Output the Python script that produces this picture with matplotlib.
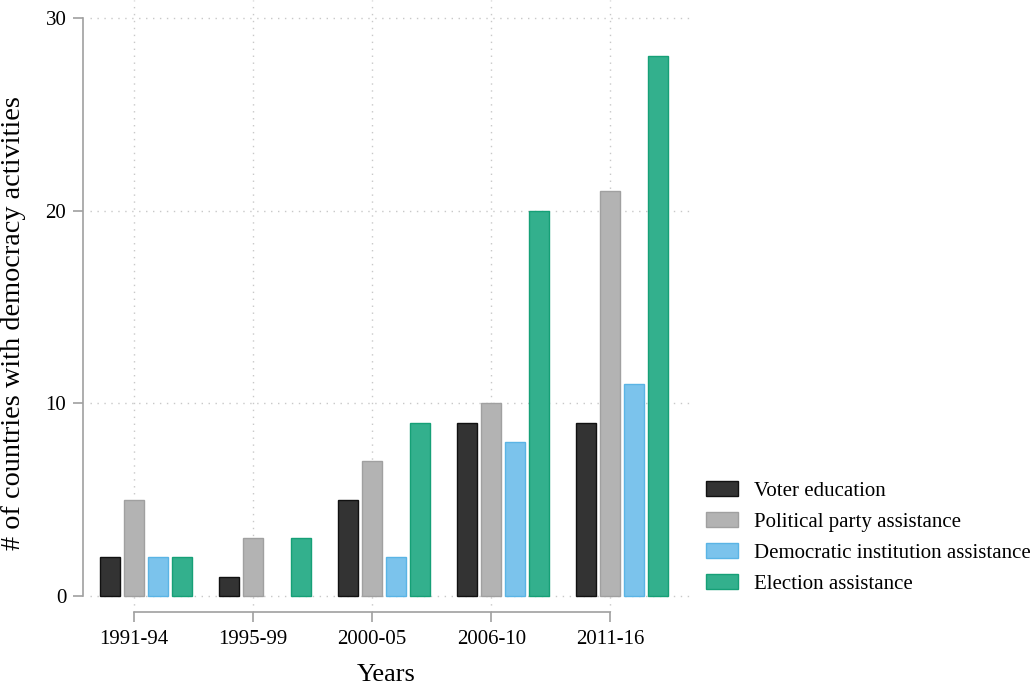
import numpy as np
import matplotlib as mpl
import matplotlib.pyplot as plt

mpl.rcParams['font.family'] = 'serif'
mpl.rcParams['font.serif'] = ['Liberation Serif', 'DejaVu Serif']

# data
periods = ["1991-94", "1995-99", "2000-05", "2006-10", "2011-16"]
voter_education = [2, 1, 5, 9, 9]
party_assistance = [5, 3, 7, 10, 21]
institution_assistance = [2, 0, 2, 8, 11]
election_assistance = [2, 3, 9, 20, 28]

series = [
    ("Voter education", voter_education, "#333333", "#111111"),
    ("Political party assistance", party_assistance, "#b3b3b3", "#a0a0a0"),
    ("Democratic institution assistance", institution_assistance, "#7bc3ec", "#5ab4e5"),
    ("Election assistance", election_assistance, "#33b08d", "#16a077"),
]

fig = plt.figure(figsize=(10.35, 6.86), dpi=100)
ax = fig.add_axes([0.0802, 0.1079, 0.5865, 0.8921])

x = np.arange(len(periods))
pitch = 0.2017
offsets = [-pitch, 0, pitch, 2 * pitch]
width = 0.168

for (label, vals, fc, ec), off in zip(series, offsets):
    vals = np.asarray(vals, dtype=float)
    mask = vals > 0
    ax.bar(x[mask] + off, vals[mask], width=width, color=fc, edgecolor=ec,
           linewidth=1.0, label=label, zorder=3)

ax.set_xlim(-0.43, 4.67)
ax.set_ylim(-0.83, 30.93)
ax.set_yticks([0, 10, 20, 30])
ax.set_xticks(x)
ax.set_xticklabels(periods)

grid_kw = dict(color="#c8c8c8", linestyle=(0, (1, 4)), linewidth=1.0, zorder=0)
for yv in [0, 10, 20, 30]:
    ax.axhline(yv, xmin=0.012, **grid_kw)
for xv in x:
    ax.axvline(xv, **grid_kw)

for s in ["top", "right"]:
    ax.spines[s].set_visible(False)
for s in ["left", "bottom"]:
    ax.spines[s].set_color("#a0a0a0")
    ax.spines[s].set_linewidth(1.2)
ax.spines["left"].set_bounds(0, 30)
ax.spines["bottom"].set_bounds(0, 4)

ax.tick_params(axis="both", colors="#a0a0a0", labelcolor="black",
               labelsize=15, length=7, width=1.2, pad=5)
ax.tick_params(axis="x", pad=6)

ax.set_ylabel("# of countries with democracy activities", fontsize=20.3)
ax.yaxis.set_label_coords(-0.094, 0.472)
ax.set_xlabel("Years", fontsize=19, labelpad=11)

ax.legend(loc="center left", bbox_to_anchor=(1.012, 0.122), frameon=False,
          fontsize=15, handlelength=1.55, handleheight=0.75,
          handletextpad=0.75, labelspacing=0.54, borderaxespad=0)

fig.savefig("out.png", dpi=100)
